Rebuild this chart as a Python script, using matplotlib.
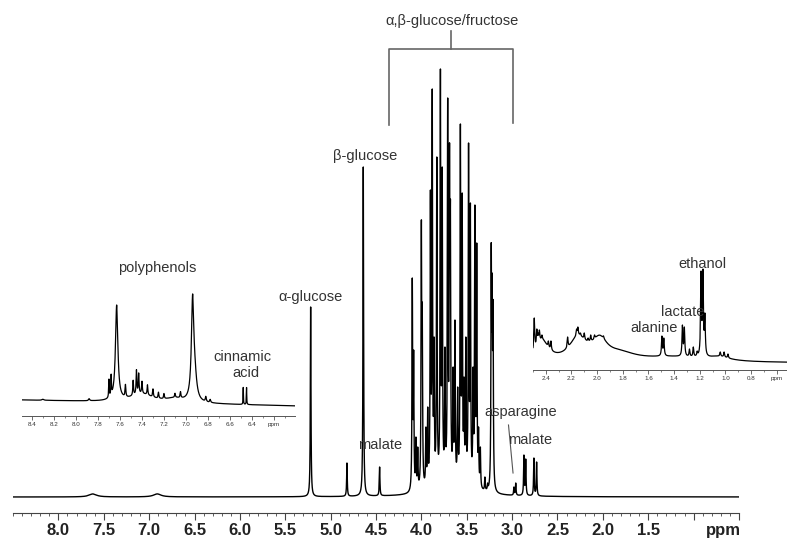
import numpy as np
import matplotlib
matplotlib.use("Agg")
import matplotlib.pyplot as plt
from matplotlib.ticker import MultipleLocator, FixedLocator, FixedFormatter

plt.rcParams['font.family'] = ['Liberation Sans', 'DejaVu Sans']

# ---- data (ppm, apparent peak top above baseline) ----
# main spectrum: sharp lines
main_ppm = [5.22, 4.82, 4.64, 4.46,
            4.10, 4.085, 4.06, 4.04, 4.00, 3.99, 3.95, 3.93, 3.90, 3.88, 3.86,
            3.83, 3.79, 3.77, 3.74, 3.71, 3.69, 3.68, 3.65, 3.63, 3.60, 3.57,
            3.55, 3.53, 3.51, 3.48, 3.46, 3.43, 3.41, 3.39, 3.37, 3.35,
            3.30, 3.27, 3.23, 3.22, 3.21,
            2.98, 2.96, 2.87, 2.85, 2.76, 2.73]
main_int = [190, 34, 330, 30,
            219, 147, 60, 50, 277, 194, 70, 90, 307, 408, 160,
            340, 428, 330, 150, 399, 354, 297, 130, 177, 110, 373,
            304, 120, 160, 354, 294, 130, 292, 254, 70, 50,
            20, 14, 254, 224, 197,
            10, 14, 42, 38, 39, 35]
# main spectrum: broad humps
main_broad_ppm = [7.62, 6.91, 3.65]
main_broad_int = [3, 3, 10]
main_broad_wid = [0.05, 0.05, 0.25]

# polyphenol inset (8.5 - 6.0 ppm)
poly_ppm = [7.63, 6.94, 6.92, 7.70, 7.68, 7.55, 7.48, 7.45, 7.43, 7.40, 7.35,
            7.30, 7.25, 7.20, 7.10, 7.05, 6.82, 6.78, 6.48, 6.45, 7.88, 8.30]
poly_int = [95, 98, 20, 18, 20, 12, 15, 24, 20, 12, 10,
            8, 6, 5, 4, 6, 5, 3, 17, 17, 2, 1]
poly_wid = [0.013, 0.013, 0.02, 0.003, 0.003, 0.004, 0.004, 0.004, 0.004, 0.004, 0.004,
            0.004, 0.004, 0.004, 0.004, 0.004, 0.005, 0.005, 0.002, 0.002, 0.006, 0.01]
poly_broad_ppm = [7.40, 7.10]
poly_broad_int = [8, 4]

# aliphatic inset (2.5 - 0.5 ppm)
ali_ppm = [2.49, 2.47, 2.46, 2.45, 2.43, 2.38, 2.36, 2.23, 2.16, 2.15, 2.13, 2.10,
           2.07, 2.05, 2.02, 1.98, 1.95, 1.92, 1.74, 1.495, 1.48, 1.335, 1.32,
           1.28, 1.25, 1.22, 1.19, 1.175, 1.16, 1.04, 1.01, 0.98]
ali_int = [45, 34, 30, 33, 28, 22, 22, 26, 34, 36, 30, 30,
           25, 28, 28, 24, 27, 18, 8, 27, 25, 38, 36,
           14, 16, 12, 92, 94, 50, 11, 11, 9]
ali_broad_ppm = [2.43, 2.15, 1.98, 1.82, 1.05, 1.40]
ali_broad_int = [20, 22, 19, 7, 4, 5]
ali_broad_wid = [0.06, 0.08, 0.07, 0.15, 0.1, 0.3]


def lorentz(x, centres, heights, widths):
    y = np.zeros_like(x, dtype=float)
    for c, h, w in zip(centres, heights, widths):
        y += h * w ** 2 / ((x - c) ** 2 + w ** 2)
    return y


def fit_amplitudes(centres, tops, widths, background):
    # amplitudes so that the summed curve reaches the read-off tops
    c = np.asarray(centres, dtype=float)
    w = np.asarray(widths, dtype=float)
    A = w[None, :] ** 2 / ((c[:, None] - c[None, :]) ** 2 + w[None, :] ** 2)
    amp = np.linalg.solve(A, np.asarray(tops, dtype=float) - background)
    return np.clip(amp, 0, None)


fig = plt.figure(figsize=(7.87, 5.42), dpi=100)
W, H = 787.0, 542.0
tc = '#333333'
fs = 10.5

# ---------------- main spectrum ----------------
ax = fig.add_axes([13 / W, (H - 513) / H, 726 / W, 513 / H])
x = np.linspace(0.5, 8.5, 40001)
main_wid = [0.004] * len(main_ppm)
bg = lorentz(np.array(main_ppm), main_broad_ppm, main_broad_int, main_broad_wid)
amp = fit_amplitudes(main_ppm, main_int, main_wid, bg)
y = lorentz(x, main_ppm, amp, main_wid)
y += lorentz(x, main_broad_ppm, main_broad_int, main_broad_wid)
ax.plot(x, y, color='black', lw=1.0)
ax.set_xlim(8.5, 0.5)
ax.set_ylim(-16, 497)
for s in ['top', 'left', 'right']:
    ax.spines[s].set_visible(False)
ax.spines['bottom'].set_color('#444444')
ax.set_yticks([])
major = np.arange(8.0, 0.49, -0.5)
ax.xaxis.set_major_locator(FixedLocator(major))
ax.xaxis.set_major_formatter(FixedFormatter(
    [f"{v:.1f}" if v > 1.2 else "" for v in major]))
ax.xaxis.set_minor_locator(MultipleLocator(0.1))
ax.tick_params(axis='x', which='major', length=5, width=0.8, pad=2,
               labelsize=12, colors='#444444', labelcolor='#222222')
ax.tick_params(axis='x', which='minor', length=2.5, width=0.6, colors='#444444')
for lab in ax.get_xticklabels():
    lab.set_fontweight('bold')
ax.text(0.67, -26, "ppm", ha='center', va='top', fontsize=12,
        fontweight='bold', color='#222222', clip_on=False)

ax.text(3.66, 476, "α,β-glucose/fructose", ha='center', va='center', fontsize=fs, color=tc)
ax.plot([4.355, 4.355, 2.99, 2.99], [372, 448, 448, 374], color='#666666', lw=1.2)
ax.plot([3.67, 3.67], [448, 466], color='#666666', lw=1.2)
ax.text(4.62, 341, "β-glucose", ha='center', va='center', fontsize=fs, color=tc)
ax.text(5.22, 200, "α-glucose", ha='center', va='center', fontsize=fs, color=tc)
ax.text(4.45, 52, "malate", ha='center', va='center', fontsize=fs, color=tc)
ax.text(2.91, 85, "asparagine", ha='center', va='center', fontsize=fs, color=tc)
ax.plot([3.04, 2.99], [72, 24], color='#555555', lw=0.8)
ax.text(2.80, 57, "malate", ha='center', va='center', fontsize=fs, color=tc)

# ---------------- polyphenol inset ----------------
ax1 = fig.add_axes([22 / W, (H - 416) / H, 273 / W, 156 / H])
ax1.patch.set_alpha(0)
x1 = np.linspace(6.0, 8.5, 12001)
y1 = lorentz(x1, poly_ppm, poly_int, poly_wid)
y1 += lorentz(x1, poly_broad_ppm, poly_broad_int, [0.12, 0.1])
y1 -= (8.5 - x1) * 2.4
ax1.plot(x1, y1, color='black', lw=0.9)
ax1.set_xlim(8.49, 6.01)
ax1.set_ylim(-16, 140)

# ---------------- aliphatic inset ----------------
ax2 = fig.add_axes([533 / W, (H - 370) / H, 254 / W, 120 / H])
ax2.patch.set_alpha(0)
x2 = np.linspace(0.5, 2.5, 12001)
ali_wid = [0.004] * len(ali_ppm)
bg2 = lorentz(np.array(ali_ppm), ali_broad_ppm, ali_broad_int, ali_broad_wid)
amp2 = fit_amplitudes(ali_ppm, ali_int, ali_wid, bg2)
y2 = lorentz(x2, ali_ppm, amp2, ali_wid)
y2 += lorentz(x2, ali_broad_ppm, ali_broad_int, ali_broad_wid)
ax2.plot(x2, y2, color='black', lw=0.9)
ax2.set_xlim(2.50, 0.52)
ax2.set_ylim(-7, 113)

for a, ticks in [(ax1, np.arange(8.4, 6.1, -0.2)), (ax2, np.arange(2.4, 0.5, -0.2))]:
    for s in ['top', 'left', 'right']:
        a.spines[s].set_visible(False)
    a.spines['bottom'].set_color('#555555')
    a.spines['bottom'].set_linewidth(0.7)
    a.set_yticks([])
    labels = [f"{v:.1f}" for v in ticks]
    labels[-1] = "ppm"
    a.xaxis.set_major_locator(FixedLocator(ticks))
    a.xaxis.set_major_formatter(FixedFormatter(labels))
    a.xaxis.set_minor_locator(MultipleLocator(0.1))
    a.tick_params(axis='x', which='major', length=3, width=0.6, pad=1,
                  labelsize=4.5, colors='#555555', labelcolor='#333333')
    a.tick_params(axis='x', which='minor', length=1.5, width=0.5, colors='#555555')

ax1.text(7.26, 132, "polyphenols", ha='center', va='center', fontsize=fs, color=tc)
ax1.text(6.49, 43, "cinnamic", ha='center', va='center', fontsize=fs, color=tc)
ax1.text(6.46, 27, "acid", ha='center', va='center', fontsize=fs, color=tc)
ax2.text(1.18, 99, "ethanol", ha='center', va='center', fontsize=fs, color=tc)
ax2.text(1.33, 51, "lactate", ha='center', va='center', fontsize=fs, color=tc)
ax2.text(1.56, 35, "alanine", ha='center', va='center', fontsize=fs, color=tc)

fig.savefig("out.png", dpi=100)
